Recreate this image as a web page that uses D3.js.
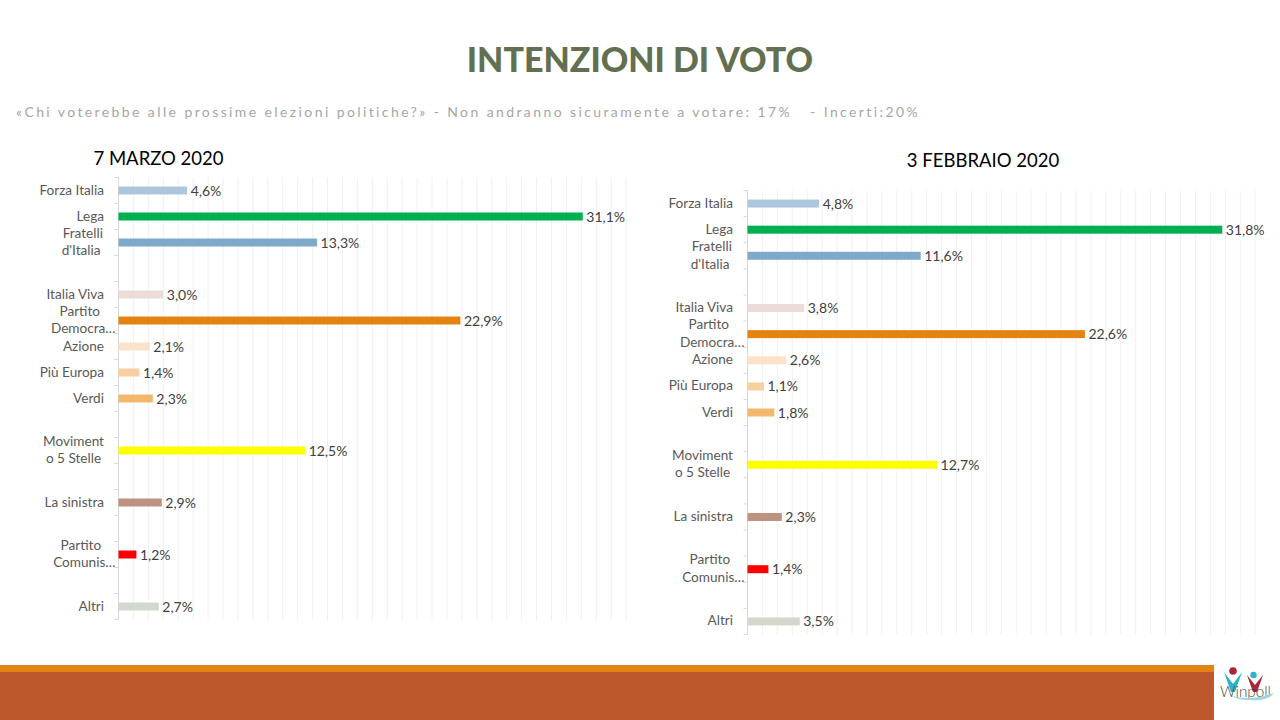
<!DOCTYPE html>
<html><head><meta charset="utf-8">
<script src="https://cdn.jsdelivr.net/npm/d3@7"></script>
<style>html,body{margin:0;padding:0;background:#fff}svg{display:block}text{font-family:Lato,"Open Sans",sans-serif;white-space:pre}</style>
</head><body><svg id="c" width="1280" height="720"></svg>
<script>
const categories=[["Forza Italia"],["Lega"],["Fratelli","d'Italia "],[],["Italia Viva"],["Partito  ","Democra…"],["Azione"],["Più Europa"],["Verdi"],[],["Moviment","o 5 Stelle"],[],["La sinistra"],[],["Partito  ","Comunis…"],[],["Altri"]];
const barColors=["#adc6dc","#00b050","#7fa9c9",null,"#ecdcd7","#e48312","#fae3c9","#f8cf9f","#f3b86e",null,"#ffff00",null,"#bd9280",null,"#ff0000",null,"#d3d8cf"];
const marzo=[4.6,31.1,13.3,null,3.0,22.9,2.1,1.4,2.3,null,12.5,null,2.9,null,1.2,null,2.7];
const febbraio=[4.8,31.8,11.6,null,3.8,22.6,2.6,1.1,1.8,null,12.7,null,2.3,null,1.4,null,3.5];
const titleText="INTENZIONI DI VOTO";
const subtitleText="«Chi voterebbe alle prossime elezioni politiche?» - Non andranno sicuramente a votare: 17%   - Incerti:20%";
const chartTitles=["7 MARZO 2020","3 FEBBRAIO 2020"];
const svg=d3.select("#c");
const fmt=v=>v.toFixed(1).replace(".",",")+"%";

svg.append("text").attr("x",640).attr("y",72).attr("text-anchor","middle")
  .attr("font-size",34).attr("font-weight",900).attr("fill","#626f50").text(titleText);
svg.append("text").attr("x",16).attr("y",117).attr("font-size",14).attr("letter-spacing",2.4)
  .attr("fill","#a6a6a6").text(subtitleText);

function chart(values,title,x0,top,height,titleX,titleY){
  const g=svg.append("g");
  const x=d3.scaleLinear().domain([0,34]).range([x0,x0+34*14.93]);
  const y=d3.scaleBand().domain(d3.range(categories.length)).range([top,top+height]);
  const bottom=top+height;
  g.append("g").selectAll("line").data(d3.range(1,35)).join("line")
    .attr("x1",d=>x(d)).attr("x2",d=>x(d)).attr("y1",top).attr("y2",bottom)
    .attr("stroke","#f0f0f0").attr("stroke-width",1);
  g.append("line").attr("x1",x0).attr("x2",x0).attr("y1",top).attr("y2",bottom).attr("stroke","#d9d9d9");
  g.append("g").selectAll("line").data(d3.range(categories.length+1)).join("line")
    .attr("x1",x0-4).attr("x2",x0).attr("y1",d=>top+d*y.step()).attr("y2",d=>top+d*y.step())
    .attr("stroke","#d9d9d9");
  const idx=d3.range(values.length).filter(i=>values[i]!==null);
  g.append("g").selectAll("rect").data(idx).join("rect")
    .attr("x",x0).attr("width",i=>x(values[i])-x0)
    .attr("y",i=>y(i)+y.bandwidth()/2-4).attr("height",8)
    .attr("fill",i=>barColors[i]);
  g.append("g").selectAll("text").data(idx).join("text")
    .attr("x",i=>x(values[i])+3.5).attr("y",i=>y(i)+y.bandwidth()/2+5)
    .attr("font-size",14).attr("fill","#404040").text(i=>fmt(values[i]));
  categories.forEach((lines,i)=>{
    if(!lines.length) return;
    const cy=y(i)+y.bandwidth()/2;
    if(lines.length===1){
      g.append("text").attr("x",x0-14.5).attr("y",cy+4).attr("text-anchor","end")
        .attr("font-size",13.6).attr("fill","#595959").text(lines[0]);
    }else{
      const trunc=lines[1].endsWith("…");
      const right=trunc?x0-3:x0-14.5;
      const ts=lines.map((l,k)=>g.append("text").attr("y",cy+4+(k-0.5)*17.5).attr("text-anchor","middle")
        .attr("font-size",13.6).attr("fill","#595959").text(l));
      const w=d3.max(ts,t=>t.node().getComputedTextLength());
      ts.forEach(t=>t.attr("x",right-w/2));
    }
  });
  g.append("text").attr("x",titleX).attr("y",titleY).attr("text-anchor","middle")
    .attr("font-size",18.5).attr("fill","#000").text(title);
}
chart(marzo,chartTitles[0],118.5,177.5,442,158.5,165);
chart(febbraio,chartTitles[1],747.5,190.5,444,983,167);

svg.append("rect").attr("x",0).attr("y",665).attr("width",1214).attr("height",7).attr("fill","#e48312");
svg.append("rect").attr("x",0).attr("y",672).attr("width",1214).attr("height",48).attr("fill","#bd582c");

const logo=svg.append("g");
logo.append("path").attr("d","M1224 672 L1233 684 L1242 672 L1235 692 L1231 692 Z").attr("fill","#2bb3c8");
logo.append("circle").attr("cx",1233).attr("cy",671).attr("r",3.8).attr("fill","#a8263a");
logo.append("path").attr("d","M1247 675 L1255 685 L1263 675 L1257 692 L1253 692 Z").attr("fill","#a8263a");
logo.append("circle").attr("cx",1253.5).attr("cy",675).attr("r",3.2).attr("fill","#2bb3c8");
logo.append("text").attr("x",1220).attr("y",697).attr("font-size",15).attr("font-weight",300).attr("fill","#4a4a4a")
  .attr("textLength",51).attr("lengthAdjust","spacingAndGlyphs").text("Winpoll");
logo.append("path").attr("d","M1232 696 Q1252 701 1274 693 Q1268 702 1248 700 Q1238 700 1232 696 Z").attr("fill","#9fd5dc");
</script></body></html>
